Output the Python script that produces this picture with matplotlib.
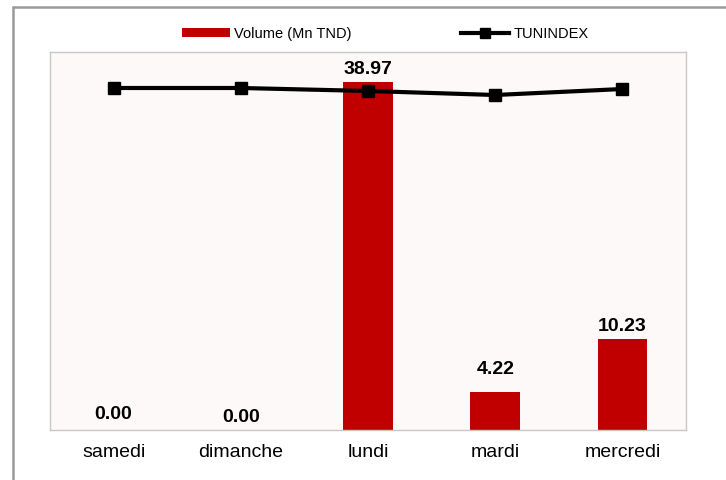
import matplotlib
matplotlib.use("Agg")
import matplotlib.pyplot as plt
from matplotlib.patches import Rectangle
from matplotlib.lines import Line2D
from matplotlib.patches import Patch

plt.rcParams['font.family'] = ['Liberation Sans', 'DejaVu Sans']

days = ["samedi", "dimanche", "lundi", "mardi", "mercredi"]
volume = [0.00, 0.00, 38.97, 4.22, 10.23]
tunindex = [9534.3, 9534.3, 9530.5, 9525.4, 9533.0]
value_labels = ["0.00", "0.00", "38.97", "4.22", "10.23"]

label_offsets = [5, 3, 3, 10, 2.5]  # points above bar top

fig = plt.figure(figsize=(7.26, 4.8), dpi=100)
fig.patch.set_facecolor("white")

# outer frame
frame = Rectangle((13 / 726, -0.1), 1.2, 1 - 7 / 480 + 0.1, transform=fig.transFigure,
                  fill=False, edgecolor="#999999", linewidth=1.8, zorder=0)
fig.add_artist(frame)

ax = fig.add_axes([50 / 726, 1 - 430 / 480, 636 / 726, 378 / 480])
ax.set_facecolor("#FCF9F8")
x = list(range(len(days)))
ax.bar(x, volume, width=0.39, color="#C00000", zorder=2)
ax.set_xlim(-0.5, 4.5)
ax.set_ylim(0, 42.3)
ax.set_yticks([])
ax.set_xticks(x)
ax.set_xticklabels(days, fontsize=14)
ax.tick_params(axis="x", length=0, pad=10)
for s in ax.spines.values():
    s.set_color("#C8C8C8")
    s.set_linewidth(1)

for xi, v, lab, off in zip(x, volume, value_labels, label_offsets):
    ax.annotate(lab, (xi, v), xytext=(0, off), textcoords="offset points",
                ha="center", va="bottom", fontsize=14, fontweight="bold", zorder=5)

ax2 = ax.twinx()
ax2.plot(x, tunindex, color="black", linewidth=3, marker="s", markersize=8.5, zorder=4)
ax2.set_ylim(9100, 9580)
ax2.set_yticks([])
for s in ax2.spines.values():
    s.set_visible(False)

handles = [Patch(facecolor="#C00000", edgecolor="none"),
           Line2D([0], [0], color="black", linewidth=3, marker="s", markersize=7)]
fig.legend(handles, ["Volume (Mn TND)", "TUNINDEX"], loc="center",
           bbox_to_anchor=(385 / 726, 1 - 34 / 480), ncol=2, frameon=False,
           fontsize=10.5, handlelength=3.3, handleheight=0.55, columnspacing=7.5,
           handletextpad=0.3)

fig.savefig("out.png", dpi=100)
